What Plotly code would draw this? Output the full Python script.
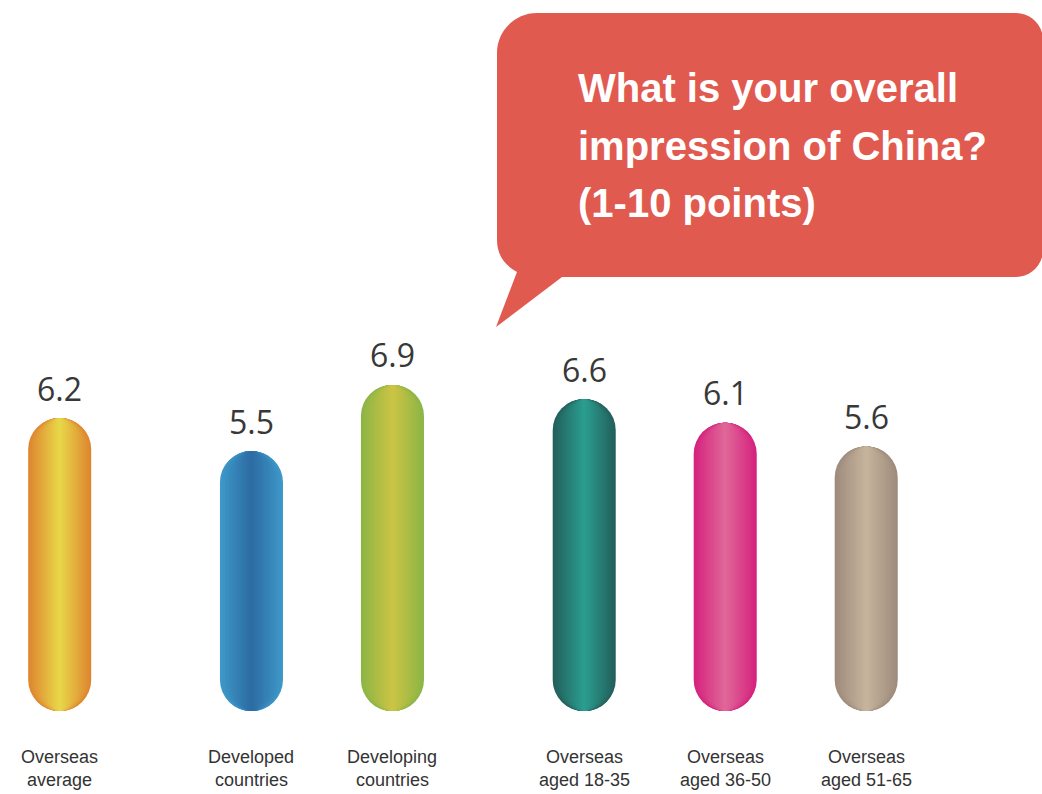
import plotly.graph_objects as go

# ---------------- data ----------------
categories = [
    "Overseas<br>average",
    "Developed<br>countries",
    "Developing<br>countries",
    "Overseas<br>aged 18-35",
    "Overseas<br>aged 36-50",
    "Overseas<br>aged 51-65",
]
scores = [6.2, 5.5, 6.9, 6.6, 6.1, 5.6]
group_ids = [0, 1, 1, 2, 2, 2]
question_lines = ["What is your overall", "impression of China?", "(1-10 points)"]

# ---------------- style ----------------
EDGE_COLORS = ["#DE842F", "#3F99C9", "#8BB546", "#235E5A", "#D5217E", "#9E8A7C"]
CENTER_COLORS = ["#E8D84A", "#2C6BA3", "#CCC444", "#2B9E91", "#E06898", "#C6B59C"]
BUBBLE_COLOR = "#E05A4F"
W_PX, H_PX = 1042, 794
BAR_W = 0.447
GROUP_GAP = 0.36
N_LAYERS = 18
X_RANGE = [-0.4234, 6.9667]
Y_RANGE = [-1.757, 15.048]


def hex2rgb(h):
    h = h.lstrip("#")
    return tuple(int(h[i:i + 2], 16) for i in (0, 2, 4))


def mix(c1, c2, t):
    a, b = hex2rgb(c1), hex2rgb(c2)
    return "rgb(%d,%d,%d)" % tuple(round(a[i] + (b[i] - a[i]) * t) for i in range(3))


n = len(scores)
xpos = [i + g * GROUP_GAP for i, g in enumerate(group_ids)]

fig = go.Figure()
for k in range(N_LAYERS):
    frac = 1 - k / N_LAYERS
    t = 1 - (k + 0.5) / N_LAYERS
    cols = [mix(CENTER_COLORS[i], EDGE_COLORS[i], t) for i in range(n)]
    w = BAR_W * frac
    # explicit base -> plotly rounds both ends of the bar (pill shape)
    fig.add_trace(go.Bar(
        x=xpos, y=scores, base=[0] * n,
        width=[w] * n, offset=[-w / 2] * n,
        marker=dict(color=cols, cornerradius="50%", line=dict(width=0)),
        hoverinfo="skip", showlegend=False,
    ))

annotations = []
for x, v in zip(xpos, scores):
    annotations.append(dict(
        x=x, y=v, xref="x", yref="y", text=f"{v:.1f}", showarrow=False,
        xanchor="center", yanchor="middle", yshift=30,
        font=dict(family="Open Sans, Noto Sans, sans-serif", size=32, color="#383838"),
    ))
for x, lab in zip(xpos, categories):
    for j, line in enumerate(lab.split("<br>")):
        annotations.append(dict(
            x=x, y=0, xref="x", yref="y", text=line, showarrow=False,
            xanchor="center", yanchor="middle", yshift=-46 - 23.5 * j,
            font=dict(family="Liberation Sans, Arial, sans-serif", size=18, color="#333333"),
        ))

line_centers = [88, 146, 203]
for line, cy in zip(question_lines, line_centers):
    annotations.append(dict(
        x=576 / W_PX, y=1 - cy / H_PX, xref="paper", yref="paper", text=line,
        showarrow=False, xanchor="left", yanchor="middle",
        font=dict(family="Liberation Sans, Arial, sans-serif", size=40, color="white", weight="bold"),
    ))


def P(x, y):
    return f"{x / W_PX:.5f},{1 - y / H_PX:.5f}"


K = 0.5523
L, T, R, B = 497, 13, 1043, 277
r_tl, r_tr, r_br = 40, 27, 27
bubble = (
    f"M {P(L + r_tl, T)} L {P(R - r_tr, T)} "
    f"C {P(R - r_tr + K * r_tr, T)} {P(R, T + r_tr - K * r_tr)} {P(R, T + r_tr)} "
    f"L {P(R, B - r_br)} "
    f"C {P(R, B - r_br + K * r_br)} {P(R - r_br + K * r_br, B)} {P(R - r_br, B)} "
    f"L {P(562, B)} L {P(496, 327)} L {P(517, 272)} "
    f"Q {P(497, 261)} {P(497, 240)} "
    f"L {P(L, T + r_tl)} "
    f"C {P(L, T + r_tl - K * r_tl)} {P(L + r_tl - K * r_tl, T)} {P(L + r_tl, T)} Z"
)

fig.update_layout(
    width=W_PX, height=H_PX,
    margin=dict(l=0, r=0, t=0, b=0),
    barmode="overlay",
    paper_bgcolor="white", plot_bgcolor="white",
    xaxis=dict(visible=False, range=X_RANGE, fixedrange=True),
    yaxis=dict(visible=False, range=Y_RANGE, fixedrange=True),
    shapes=[dict(type="path", path=bubble, xref="paper", yref="paper",
                 fillcolor=BUBBLE_COLOR, line=dict(width=0), layer="below")],
    annotations=annotations,
    showlegend=False,
)

fig.write_html("out.html", post_script="document.body.style.margin='0';",
               config={"displayModeBar": False})
